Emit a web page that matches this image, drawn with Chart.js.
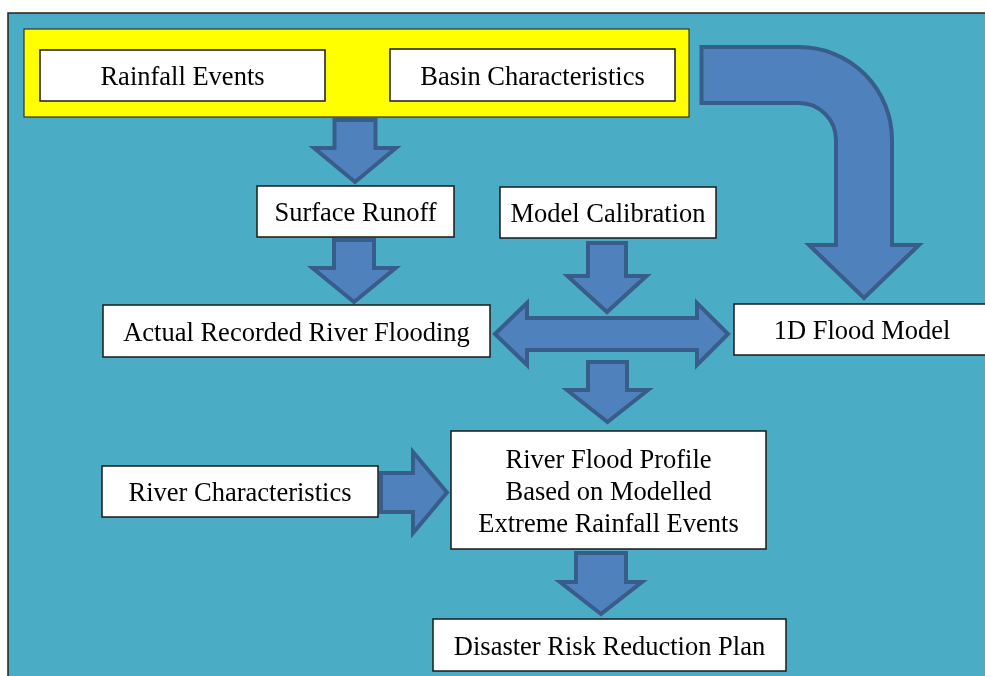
<!DOCTYPE html>
<html>
<head>
<meta charset="utf-8">
<script src="https://cdn.jsdelivr.net/npm/chart.js@4"></script>
<style>
html,body{margin:0;padding:0;background:#fff;}
#wrap{width:985px;height:676px;position:relative;}
</style>
</head>
<body>
<div id="wrap"><canvas id="c" width="985" height="676"></canvas></div>
<script>
// ---- Flowchart content (diagram units = source pixels) ----
const nodeLabels = [
  ["Rainfall Events"],
  ["Basin Characteristics"],
  ["Surface Runoff"],
  ["Model Calibration"],
  ["Actual Recorded River Flooding"],
  ["1D Flood Model"],
  ["River Characteristics"],
  ["River Flood Profile", "Based on Modelled", "Extreme Rainfall Events"],
  ["Disaster Risk Reduction Plan"]
];
// box extents [x0, y0, x1, y1]
const nodeBoxes = [
  [40, 50, 325, 101],
  [390, 49, 675, 101],
  [257, 186, 454, 237],
  [500, 187, 716, 238],
  [103, 305, 490, 357],
  [734, 304, 990, 355],
  [102, 466, 378, 517],
  [451, 431, 766, 549],
  [433, 619, 786, 671]
];
const groupBox = [24, 29, 689, 117];       // yellow input group
const frameBox = [8, 13, 1000, 700];       // teal frame
// down arrows: [centerX, shaftTop, headBase, tip, shaftHalf, headHalf]
const downArrows = [
  [355, 120, 148, 182, 20.5, 41],
  [354, 240, 268, 302, 20, 41.5],
  [607, 243, 276, 312, 19, 39.5],
  [607.5, 362, 390, 422, 19.5, 40.5],
  [601, 553, 582, 614, 25, 41]
];
// right arrow: [shaftStart, headBase, tip, centerY, shaftHalf, headHalf]
const rightArrows = [
  [381, 413, 447, 492.5, 19.5, 40.5]
];
// double arrow: [leftTip, leftBase, rightBase, rightTip, centerY, shaftHalf, headHalf]
const doubleArrows = [
  [495, 527, 697, 728, 334, 16, 31]
];
// bent arrow: [startX, cornerCX, cornerCY, outerR, innerR, headBase, headHalf, tip]
const bentArrows = [
  [701.5, 799, 140, 93, 37, 245, 55, 298]
];

const colors = {
  frame: '#4BACC6', group: '#FFFF00', box: '#FFFFFF', boxLine: '#1a1a1a',
  arrowFill: '#4F81BD', arrowLine: '#385D8A', text: '#000000'
};

const diagramPlugin = {
  id: 'diagram',
  beforeDatasetsDraw(chart) {
    const ctx = chart.ctx, xs = chart.scales.x, ys = chart.scales.y;
    const X = v => xs.getPixelForValue(v), Y = v => ys.getPixelForValue(v);
    const sx = (X(100) - X(0)) / 100, sy = (Y(100) - Y(0)) / 100;
    ctx.save();
    // frame
    ctx.fillStyle = colors.frame;
    ctx.fillRect(X(frameBox[0]), Y(frameBox[1]), X(frameBox[2]) - X(frameBox[0]), Y(frameBox[3]) - Y(frameBox[1]));
    ctx.strokeStyle = '#222'; ctx.lineWidth = 1.5;
    ctx.strokeRect(X(frameBox[0]), Y(frameBox[1]), X(frameBox[2]) - X(frameBox[0]), Y(frameBox[3]) - Y(frameBox[1]));
    // group
    ctx.fillStyle = colors.group;
    ctx.fillRect(X(groupBox[0]), Y(groupBox[1]), X(groupBox[2]) - X(groupBox[0]), Y(groupBox[3]) - Y(groupBox[1]));
    ctx.strokeStyle = '#333'; ctx.lineWidth = 1.2;
    ctx.strokeRect(X(groupBox[0]), Y(groupBox[1]), X(groupBox[2]) - X(groupBox[0]), Y(groupBox[3]) - Y(groupBox[1]));

    function finishArrow() {
      ctx.closePath();
      ctx.fillStyle = colors.arrowFill; ctx.fill();
      ctx.strokeStyle = colors.arrowLine; ctx.lineWidth = 4; ctx.lineJoin = 'miter'; ctx.stroke();
    }
    downArrows.forEach(([cx, top, base, tip, sh, hh]) => {
      ctx.beginPath();
      ctx.moveTo(X(cx - sh), Y(top)); ctx.lineTo(X(cx + sh), Y(top));
      ctx.lineTo(X(cx + sh), Y(base)); ctx.lineTo(X(cx + hh), Y(base));
      ctx.lineTo(X(cx), Y(tip)); ctx.lineTo(X(cx - hh), Y(base));
      ctx.lineTo(X(cx - sh), Y(base));
      finishArrow();
    });
    rightArrows.forEach(([s, b, t, cy, sh, hh]) => {
      ctx.beginPath();
      ctx.moveTo(X(s), Y(cy - sh)); ctx.lineTo(X(b), Y(cy - sh)); ctx.lineTo(X(b), Y(cy - hh));
      ctx.lineTo(X(t), Y(cy)); ctx.lineTo(X(b), Y(cy + hh)); ctx.lineTo(X(b), Y(cy + sh));
      ctx.lineTo(X(s), Y(cy + sh));
      finishArrow();
    });
    doubleArrows.forEach(([lt, lb, rb, rt, cy, sh, hh]) => {
      ctx.beginPath();
      ctx.moveTo(X(lt), Y(cy)); ctx.lineTo(X(lb), Y(cy - hh)); ctx.lineTo(X(lb), Y(cy - sh));
      ctx.lineTo(X(rb), Y(cy - sh)); ctx.lineTo(X(rb), Y(cy - hh)); ctx.lineTo(X(rt), Y(cy));
      ctx.lineTo(X(rb), Y(cy + hh)); ctx.lineTo(X(rb), Y(cy + sh)); ctx.lineTo(X(lb), Y(cy + sh));
      ctx.lineTo(X(lb), Y(cy + hh));
      finishArrow();
    });
    bentArrows.forEach(([sxp, ccx, ccy, ro, ri, base, hh, tip]) => {
      const mid = ccx + (ro + ri) / 2;
      ctx.beginPath();
      ctx.moveTo(X(sxp), Y(ccy - ro));
      ctx.lineTo(X(ccx), Y(ccy - ro));
      ctx.ellipse(X(ccx), Y(ccy), ro * sx, ro * sy, 0, -Math.PI / 2, 0, false);
      ctx.lineTo(X(ccx + ro), Y(base)); ctx.lineTo(X(mid + hh), Y(base));
      ctx.lineTo(X(mid), Y(tip)); ctx.lineTo(X(mid - hh), Y(base));
      ctx.lineTo(X(ccx + ri), Y(base)); ctx.lineTo(X(ccx + ri), Y(ccy));
      ctx.ellipse(X(ccx), Y(ccy), ri * sx, ri * sy, 0, 0, -Math.PI / 2, true);
      ctx.lineTo(X(sxp), Y(ccy - ri));
      finishArrow();
    });
    // boxes and labels
    nodeBoxes.forEach((b, i) => {
      const x0 = X(b[0]), y0 = Y(b[1]), w = X(b[2]) - x0, h = Y(b[3]) - y0;
      ctx.fillStyle = colors.box; ctx.fillRect(x0, y0, w, h);
      ctx.strokeStyle = colors.boxLine; ctx.lineWidth = 1.5; ctx.strokeRect(x0, y0, w, h);
      const lines = nodeLabels[i];
      ctx.fillStyle = colors.text;
      ctx.font = '26.5px "Liberation Serif", "Times New Roman", serif';
      ctx.textAlign = 'center'; ctx.textBaseline = 'alphabetic';
      const lh = 32 * sy, cx = x0 + w / 2, cy = y0 + h / 2;
      lines.forEach((t, k) => {
        ctx.fillText(t, cx, cy + (k - (lines.length - 1) / 2) * lh + 9.5);
      });
    });
    ctx.restore();
  }
};

new Chart(document.getElementById('c'), {
  type: 'scatter',
  data: { datasets: [{ data: nodeBoxes.map(b => ({ x: (b[0] + b[2]) / 2, y: (b[1] + b[3]) / 2 })), pointRadius: 0 }] },
  options: {
    responsive: false, animation: false,
    layout: { padding: 0 },
    plugins: { legend: { display: false }, tooltip: { enabled: false } },
    scales: {
      x: { type: 'linear', min: 0, max: 985, display: false },
      y: { type: 'linear', min: 0, max: 676, reverse: true, display: false }
    }
  },
  plugins: [diagramPlugin]
});
</script>
</body>
</html>
